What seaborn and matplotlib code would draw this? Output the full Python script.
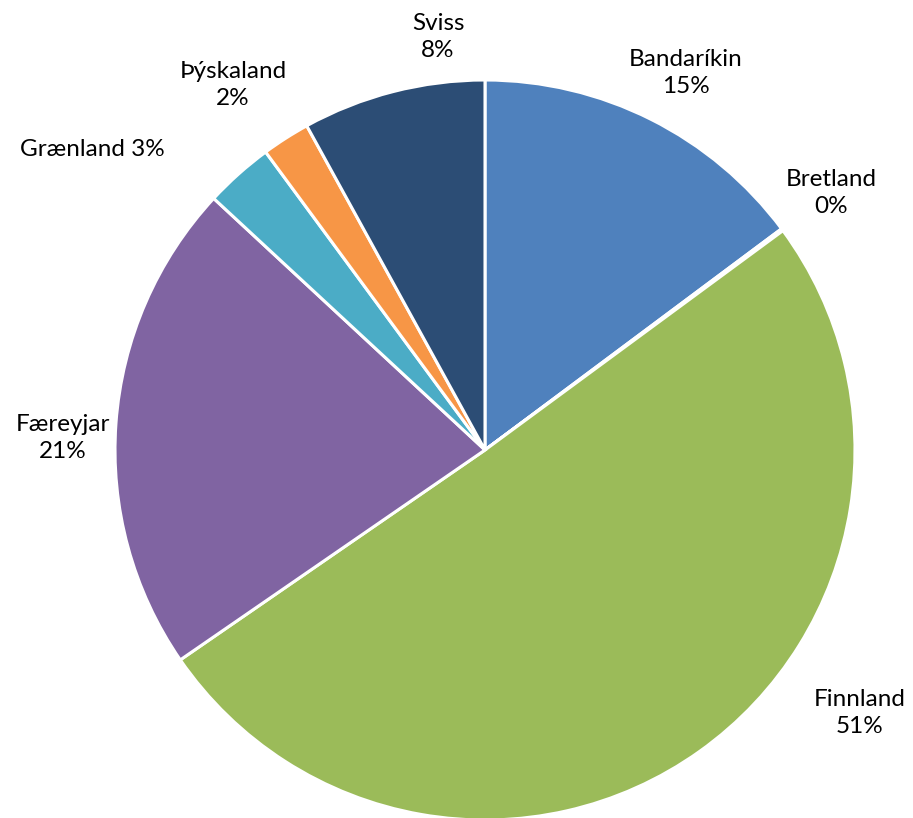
import matplotlib
matplotlib.use("Agg")
import matplotlib.pyplot as plt
import seaborn as sns

# Data (share of total, %), clockwise from 12 o'clock
countries = ["Bandaríkin", "Bretland", "Finnland", "Færeyjar", "Grænland", "Þýskaland", "Sviss"]
shares = [14.8, 0.1, 50.5, 21.5, 3.0, 2.1, 8.0]
pct_labels = ["15%", "0%", "51%", "21%", "3%", "2%", "8%"]
colors = ["#4F81BD", "#C0504D", "#9BBB59", "#8064A2", "#4BACC6", "#F79646", "#2C4D75"]

# label anchor (pixel centre in the 913x818 image) and whether label is one line
label_px = [(686, 73), (831, 193), (860, 713), (63, 438), (92, 150), (233, 85), (438, 37)]
one_line = [False, False, False, False, True, False, False]

sns.set_theme(style="white")
plt.rcParams["font.family"] = ["Lato", "DejaVu Sans"]

W, H = 913, 818
fig = plt.figure(figsize=(W / 100, H / 100), dpi=100)
ax = fig.add_axes([0, 0, 1, 1])

# pie centre (485, 450) px, radius 370 px
cx, cy, r = 485, 450, 370
ax.pie(shares, colors=colors, startangle=90, counterclock=False, radius=1,
       wedgeprops=dict(edgecolor="white", linewidth=2.2))
ax.set_xlim(-cx / r, (W - cx) / r)
ax.set_ylim(-(H - cy) / r, cy / r)
ax.set_aspect("auto")
ax.axis("off")

for name, pct, (px, py), single in zip(countries, pct_labels, label_px, one_line):
    txt = f"{name} {pct}" if single else f"{name}\n{pct}"
    ax.text(px / W, 1 - py / H, txt, transform=ax.transAxes, ha="center", va="center",
            fontsize=17.5, color="black", linespacing=1.35)

fig.savefig("out.png", dpi=100)
